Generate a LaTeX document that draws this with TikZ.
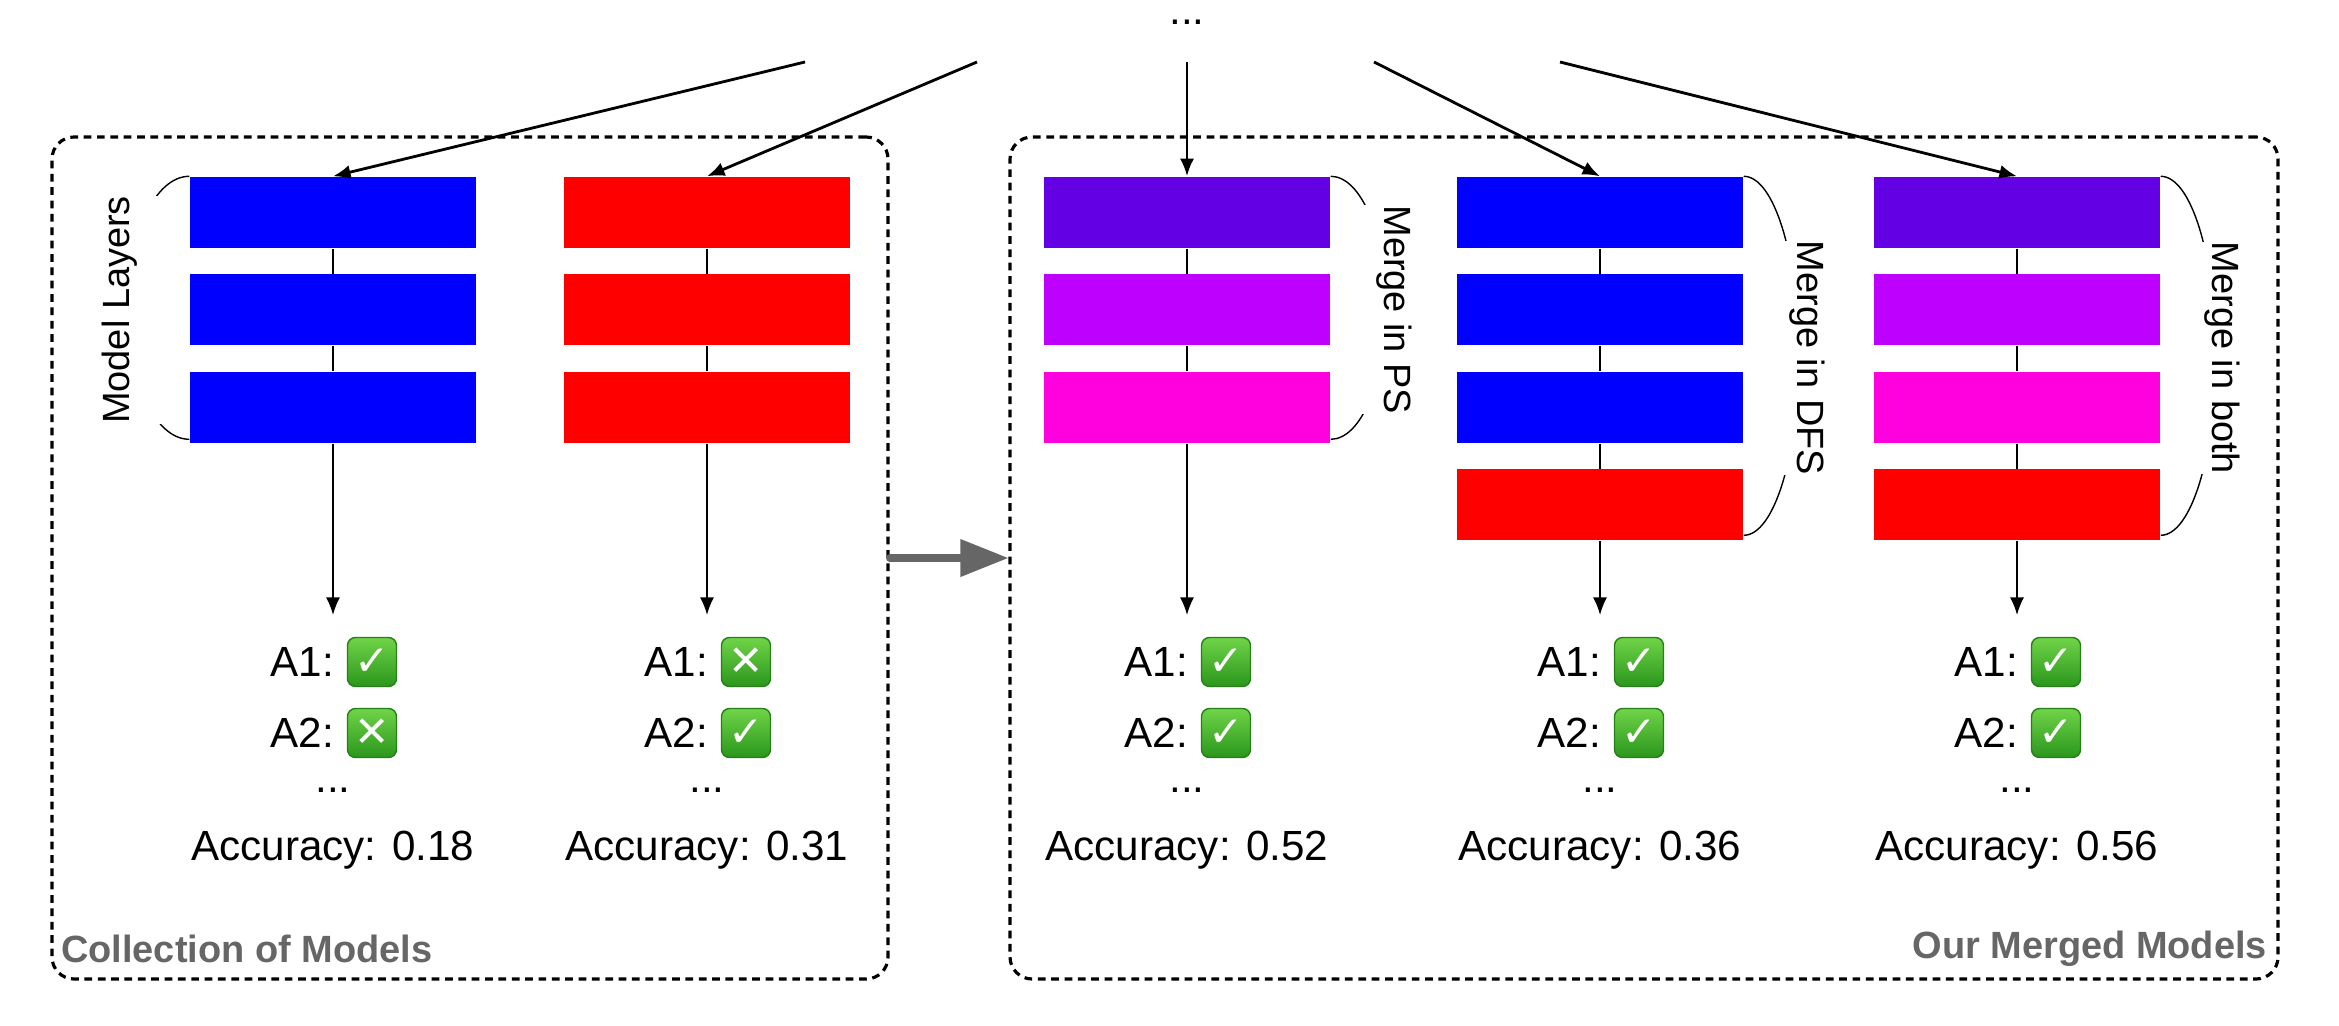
\documentclass[tikz,border=0pt]{standalone}
\usepackage{fontspec}
\setmainfont{Liberation Sans}
\newfontfamily\symfont{DejaVu Sans}
\usetikzlibrary{arrows}
\usetikzlibrary{arrows.meta}
\usetikzlibrary{positioning}

\definecolor{lyrblue}{RGB}{0,0,255}
\definecolor{lyrred}{RGB}{255,0,0}
\definecolor{mixone}{RGB}{100,0,228}
\definecolor{mixtwo}{RGB}{190,0,255}
\definecolor{mixthree}{RGB}{255,0,222}
\definecolor{tagray}{RGB}{102,102,102}
\definecolor{okhi}{RGB}{112,212,72}
\definecolor{oklo}{RGB}{42,150,28}
\definecolor{okrim}{RGB}{38,128,24}

\begin{document}
\begin{tikzpicture}[
    node distance=0.25cm,
    layer/.style={minimum width=2.86cm, minimum height=0.71cm, inner sep=0pt},
    groupbox/.style={draw, line width=0.9pt, dash pattern=on 2.2pt off 1.6pt, rounded corners=0.22cm, inner sep=0pt},
    sidelabel/.style={fill=white, inner xsep=0pt, inner ysep=0.25cm, font=\fontsize{10.8}{13}\selectfont},
    grouplabel/.style={inner sep=0pt, text=tagray, font=\fontsize{10.8}{13}\selectfont\bfseries},
    res/.style={inner sep=0pt, font=\fontsize{12}{14}\selectfont},
    okmark/.style={minimum size=0.49cm, inner sep=0pt, rounded corners=0.08cm, draw=okrim, line width=0.4pt,
        top color=okhi, bottom color=oklo, text=white, font=\symfont\fontsize{12}{14}\selectfont},
    feed/.style={-{Latex[length=5pt, width=4pt]}, line width=0.8pt},
    link/.style={line width=0.5pt},
    drop/.style={link, -{Latex[length=5pt, width=4pt]}},
    bigarrow/.style={draw=tagray, line width=2pt, line cap=round, -{Triangle[length=0.48cm, width=0.36cm]}}
]
\useasboundingbox (0,0) rectangle (23.39,-10.25);

% the two groups
\node[groupbox, minimum width=8.36cm, minimum height=8.42cm] (coll) at (4.70,-5.58) {};
\node[groupbox, minimum width=12.68cm, minimum height=8.42cm] (merged) at (16.44,-5.58) {};
\node[grouplabel, above right=0.17cm and 0.1cm of coll.south west] (colltag) {Collection of Models};
\node[grouplabel, above left=0.13cm and 0.12cm of merged.south east] (mergedtag) {Our Merged Models};
\draw[bigarrow] (coll.east) -- (merged.west);

% incoming
\node[res] (dots) at (11.87,-0.22) {...};
\coordinate (s1) at (8.05,-0.62);
\coordinate (s2) at (9.77,-0.62);
\coordinate (s3) at (11.87,-0.62);
\coordinate (s4) at (13.74,-0.62);
\coordinate (s5) at (15.60,-0.62);

% model 1
\node[layer, fill=lyrblue] (c1l1) at (3.33,-2.125) {};
\node[layer, fill=lyrblue, below=of c1l1] (c1l2) {};
\node[layer, fill=lyrblue, below=of c1l2] (c1l3) {};
\coordinate (c1end) at (3.33,-6.15);
\draw[link] (c1l1) -- (c1l2) -- (c1l3);
\draw[drop] (c1l3) -- (c1end);
\draw[feed] (s1) -- (c1l1.north);
\draw (c1l1.north west) arc[start angle=90, end angle=270, x radius=0.62cm, y radius=1.315cm];
\node[sidelabel, rotate=90] (lyrs) at ([xshift=-0.70cm]c1l2.west) {Model Layers};

% model 2
\node[layer, fill=lyrred] (c2l1) at (7.07,-2.125) {};
\node[layer, fill=lyrred, below=of c2l1] (c2l2) {};
\node[layer, fill=lyrred, below=of c2l2] (c2l3) {};
\coordinate (c2end) at (7.07,-6.15);
\draw[link] (c2l1) -- (c2l2) -- (c2l3);
\draw[drop] (c2l3) -- (c2end);
\draw[feed] (s2) -- (c2l1.north);

% merge in PS
\node[layer, fill=mixone] (c3l1) at (11.87,-2.125) {};
\node[layer, fill=mixtwo, below=of c3l1] (c3l2) {};
\node[layer, fill=mixthree, below=of c3l2] (c3l3) {};
\coordinate (c3end) at (11.87,-6.15);
\draw[link] (c3l1) -- (c3l2) -- (c3l3);
\draw[drop] (c3l3) -- (c3end);
\draw[feed] (s3) -- (c3l1.north);
\draw (c3l1.north east) arc[start angle=90, end angle=-90, x radius=0.55cm, y radius=1.315cm];
\node[sidelabel, rotate=-90] (psl) at ([xshift=0.64cm]c3l2.east) {Merge in PS};

% merge in DFS
\node[layer, fill=lyrblue] (c4l1) at (16.00,-2.125) {};
\node[layer, fill=lyrblue, below=of c4l1] (c4l2) {};
\node[layer, fill=lyrblue, below=of c4l2] (c4l3) {};
\node[layer, fill=lyrred, below=of c4l3] (c4l4) {};
\coordinate (c4end) at (16.00,-6.15);
\draw[link] (c4l1) -- (c4l2) -- (c4l3) -- (c4l4);
\draw[drop] (c4l4) -- (c4end);
\draw[feed] (s4) -- (c4l1.north);
\draw (c4l1.north east) arc[start angle=90, end angle=-90, x radius=0.55cm, y radius=1.795cm];
\node[sidelabel, rotate=-90] (dfsl) at ([xshift=0.64cm, yshift=-0.48cm]c4l2.east) {Merge in DFS};

% merge in both
\node[layer, fill=mixone] (c5l1) at (20.17,-2.125) {};
\node[layer, fill=mixtwo, below=of c5l1] (c5l2) {};
\node[layer, fill=mixthree, below=of c5l2] (c5l3) {};
\node[layer, fill=lyrred, below=of c5l3] (c5l4) {};
\coordinate (c5end) at (20.17,-6.15);
\draw[link] (c5l1) -- (c5l2) -- (c5l3) -- (c5l4);
\draw[drop] (c5l4) -- (c5end);
\draw[feed] (s5) -- (c5l1.north);
\draw (c5l1.north east) arc[start angle=90, end angle=-90, x radius=0.55cm, y radius=1.795cm];
\node[sidelabel, rotate=-90] (bothl) at ([xshift=0.62cm, yshift=-0.48cm]c5l2.east) {Merge in both};

% results
\node[okmark] (c1m1) at (3.72,-6.62) {✓};
\node[res, left=0.12cm of c1m1] (c1a1) {A1:};
\node[okmark] (c1m2) at (3.72,-7.33) {✕};
\node[res, left=0.12cm of c1m2] (c1a2) {A2:};
\node[res] (c1more) at (3.33,-7.90) {...};
\node[res] (c1acc) at (3.33,-8.50) {Accuracy: 0.18};

\node[okmark] (c2m1) at (7.46,-6.62) {✕};
\node[res, left=0.12cm of c2m1] (c2a1) {A1:};
\node[okmark] (c2m2) at (7.46,-7.33) {✓};
\node[res, left=0.12cm of c2m2] (c2a2) {A2:};
\node[res] (c2more) at (7.07,-7.90) {...};
\node[res] (c2acc) at (7.07,-8.50) {Accuracy: 0.31};

\node[okmark] (c3m1) at (12.26,-6.62) {✓};
\node[res, left=0.12cm of c3m1] (c3a1) {A1:};
\node[okmark] (c3m2) at (12.26,-7.33) {✓};
\node[res, left=0.12cm of c3m2] (c3a2) {A2:};
\node[res] (c3more) at (11.87,-7.90) {...};
\node[res] (c3acc) at (11.87,-8.50) {Accuracy: 0.52};

\node[okmark] (c4m1) at (16.39,-6.62) {✓};
\node[res, left=0.12cm of c4m1] (c4a1) {A1:};
\node[okmark] (c4m2) at (16.39,-7.33) {✓};
\node[res, left=0.12cm of c4m2] (c4a2) {A2:};
\node[res] (c4more) at (16.00,-7.90) {...};
\node[res] (c4acc) at (16.00,-8.50) {Accuracy: 0.36};

\node[okmark] (c5m1) at (20.56,-6.62) {✓};
\node[res, left=0.12cm of c5m1] (c5a1) {A1:};
\node[okmark] (c5m2) at (20.56,-7.33) {✓};
\node[res, left=0.12cm of c5m2] (c5a2) {A2:};
\node[res] (c5more) at (20.17,-7.90) {...};
\node[res] (c5acc) at (20.17,-8.50) {Accuracy: 0.56};
\end{tikzpicture}
\end{document}
